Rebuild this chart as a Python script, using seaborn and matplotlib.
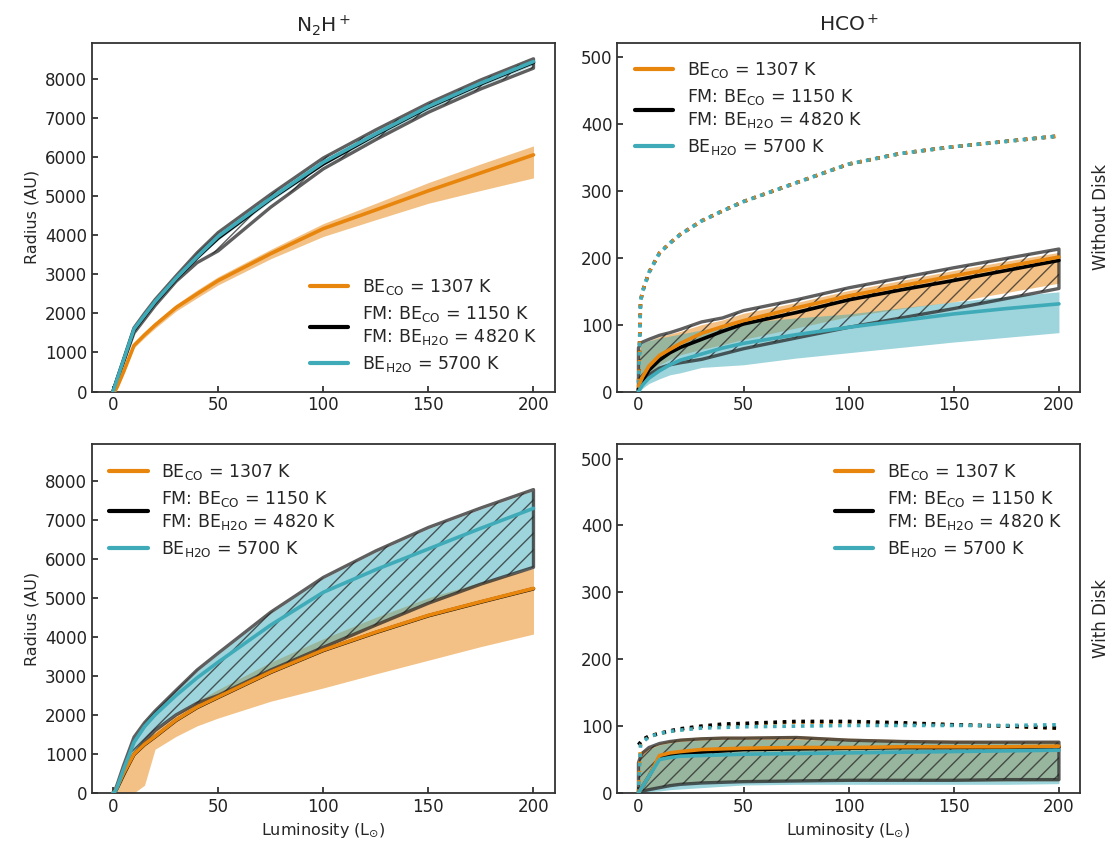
import numpy as np
import pandas as pd
import matplotlib
matplotlib.use("Agg")
import matplotlib.pyplot as plt
from matplotlib.lines import Line2D
import seaborn as sns

sns.set_style("ticks")
plt.rcParams['font.family'] = ['DejaVu Sans']
plt.rcParams['hatch.linewidth'] = 1.0
plt.rcParams['lines.scale_dashes'] = False

# ---------------- data ----------------
L = [0, 1, 2, 5, 10, 15, 20, 30, 40, 50, 75, 100, 125, 150, 175, 200]

# N2H+ without disk
n2h_nd_co_line = [0, 20, 120, 500, 1180, 1450, 1700, 2150, 2500, 2840, 3530, 4170, 4650, 5140, 5600, 6060]
n2h_nd_co_lo = [0, 0, 80, 440, 1120, 1380, 1620, 2060, 2400, 2730, 3400, 3970, 4400, 4820, 5150, 5470]
n2h_nd_co_hi = [0, 60, 170, 560, 1240, 1510, 1770, 2230, 2600, 2940, 3640, 4300, 4820, 5350, 5830, 6290]
n2h_nd_fm_line = [0, 150, 310, 780, 1580, 1930, 2280, 2880, 3430, 3930, 4930, 5830, 6580, 7280, 7880, 8430]
n2h_nd_fm_lo = [0, 150, 300, 750, 1500, 1850, 2200, 2820, 3300, 3600, 4720, 5700, 6450, 7150, 7750, 8280]
n2h_nd_fm_hi = [0, 170, 340, 820, 1630, 2000, 2350, 2960, 3550, 4070, 5050, 5980, 6700, 7380, 7980, 8520]
n2h_nd_h2o_line = [0, 160, 320, 800, 1600, 1950, 2300, 2900, 3450, 3970, 4950, 5870, 6600, 7300, 7900, 8450]
n2h_nd_h2o_lo = [0, 110, 270, 740, 1540, 1890, 2240, 2840, 3380, 3880, 4870, 5790, 6520, 7220, 7820, 8370]
n2h_nd_h2o_hi = [0, 190, 360, 840, 1650, 2000, 2350, 2950, 3500, 4020, 5000, 5930, 6660, 7360, 7960, 8510]

# N2H+ with disk
n2h_d_co_line = [0, 50, 150, 500, 1000, 1250, 1450, 1870, 2200, 2460, 3100, 3660, 4120, 4550, 4900, 5240]
n2h_d_co_lo = [0, 0, 0, 0, 0, 200, 1120, 1450, 1720, 1920, 2350, 2690, 3050, 3400, 3750, 4070]
n2h_d_co_hi = [0, 100, 200, 600, 1100, 1350, 1600, 2000, 2350, 2650, 3350, 3950, 4500, 5000, 5400, 5750]
n2h_d_fm_line = [0, 40, 140, 490, 990, 1240, 1440, 1860, 2190, 2450, 3090, 3650, 4110, 4540, 4890, 5230]
n2h_d_fm_lo = [0, 30, 120, 450, 1000, 1320, 1600, 2000, 2300, 2500, 3150, 3730, 4300, 4860, 5350, 5780]
n2h_d_fm_hi = [0, 80, 220, 700, 1430, 1800, 2100, 2630, 3150, 3580, 4630, 5520, 6200, 6800, 7300, 7770]
n2h_d_h2o_line = [0, 40, 150, 600, 1300, 1700, 2000, 2500, 2950, 3350, 4300, 5140, 5720, 6250, 6780, 7290]
n2h_d_h2o_lo = [0, 30, 130, 500, 1050, 1380, 1650, 2050, 2350, 2560, 3200, 3780, 4350, 4900, 5380, 5800]
n2h_d_h2o_hi = [0, 70, 210, 680, 1400, 1770, 2080, 2610, 3120, 3550, 4600, 5490, 6170, 6770, 7270, 7740]

# HCO+ without disk
hco_nd_co_dot = [0, 135, 150, 178, 207, 222, 235, 255, 270, 284, 312, 340, 356, 366, 374, 382]
hco_nd_fm_dot = [0, 135, 150, 178, 207, 222, 235, 255, 270, 284, 312, 340, 356, 366, 374, 382]
hco_nd_h2o_dot = [0, 135, 150, 178, 207, 222, 235, 255, 270, 284, 312, 340, 356, 366, 374, 382]
hco_nd_co_line = [8, 15, 22, 38, 54, 63, 72, 87, 97, 106, 125, 143, 158, 173, 187, 201]
hco_nd_co_lo = [0, 5, 10, 25, 40, 48, 55, 63, 70, 78, 95, 112, 124, 134, 148, 162]
hco_nd_co_hi = [60, 68, 72, 76, 82, 86, 90, 100, 107, 117, 133, 151, 166, 181, 195, 208]
hco_nd_fm_line = [3, 10, 17, 32, 47, 58, 66, 78, 90, 101, 118, 137, 152, 166, 181, 196]
hco_nd_fm_lo = [0, 8, 14, 25, 35, 40, 43, 48, 56, 64, 80, 96, 110, 124, 139, 154]
hco_nd_fm_hi = [65, 72, 74, 78, 84, 88, 93, 104, 110, 121, 137, 155, 170, 185, 199, 213]
hco_nd_h2o_line = [0, 5, 10, 20, 31, 40, 47, 56, 65, 72, 85, 96, 106, 116, 124, 131]
hco_nd_h2o_lo = [0, 2, 5, 12, 19, 25, 28, 36, 38, 40, 50, 58, 66, 74, 81, 88]
hco_nd_h2o_hi = [20, 70, 73, 76, 80, 83, 86, 92, 98, 103, 110, 116, 125, 134, 142, 149]

# HCO+ with disk
hco_d_co_dot = [0, 74, 78, 85, 89, 92, 95, 99, 101, 103, 106, 106, 104, 102, 100, 97]
hco_d_fm_dot = [72, 76, 80, 85, 89, 93, 96, 100, 103, 104, 107, 107, 105, 102, 100, 97]
hco_d_h2o_dot = [0, 72, 76, 84, 89, 92, 94, 97, 98, 99, 100, 101, 101, 101, 101, 102]
hco_d_co_line = [0, 5, 10, 25, 56, 60, 62, 65, 66, 67, 68, 68, 69, 69, 69, 70]
hco_d_co_lo = [0, 2, 3, 5, 9, 12, 14, 16, 17, 17, 18, 18, 18, 18, 18, 18]
hco_d_co_hi = [60, 62, 64, 68, 75, 79, 82, 84, 85, 85, 86, 82, 80, 79, 78, 78]
hco_d_fm_line = [0, 5, 10, 25, 54, 57, 59, 61, 63, 65, 66, 67, 68, 68, 68, 69]
hco_d_fm_lo = [0, 2, 3, 5, 8, 11, 13, 15, 16, 17, 18, 19, 19, 19, 20, 20]
hco_d_fm_hi = [45, 55, 60, 68, 74, 77, 79, 81, 82, 82, 83, 79, 77, 76, 76, 76]
hco_d_h2o_line = [0, 5, 10, 25, 50, 53, 55, 56, 57, 58, 59, 60, 61, 62, 63, 64]
hco_d_h2o_lo = [0, 0, 1, 2, 3, 5, 6, 8, 10, 12, 13, 13, 13, 13, 13, 14]
hco_d_h2o_hi = [30, 50, 56, 65, 72, 75, 77, 79, 80, 80, 80, 78, 76, 75, 75, 75]

col_titles = ["N$_2$H$^+$", "HCO$^+$"]
row_labels = ["Without Disk", "With Disk"]
legend_labels = ["BE$_{\\mathrm{CO}}$ = 1307 K",
                 "FM: BE$_{\\mathrm{CO}}$ = 1150 K\nFM: BE$_{\\mathrm{H2O}}$ = 4820 K",
                 "BE$_{\\mathrm{H2O}}$ = 5700 K"]

ORANGE = "#E8850C"
TEAL = "#3FABB8"
BLACK = "#000000"
DOT = (2.6, 4.1)  # dot length, gap (points)

panels = [
    dict(co=(n2h_nd_co_line, n2h_nd_co_lo, n2h_nd_co_hi),
         fm=(n2h_nd_fm_line, n2h_nd_fm_lo, n2h_nd_fm_hi),
         h2o=(n2h_nd_h2o_line, n2h_nd_h2o_lo, n2h_nd_h2o_hi),
         dots=None, loc="lower right"),
    dict(co=(hco_nd_co_line, hco_nd_co_lo, hco_nd_co_hi),
         fm=(hco_nd_fm_line, hco_nd_fm_lo, hco_nd_fm_hi),
         h2o=(hco_nd_h2o_line, hco_nd_h2o_lo, hco_nd_h2o_hi),
         dots=[(hco_nd_fm_dot, BLACK, 0.0), (hco_nd_co_dot, ORANGE, 0.0),
               (hco_nd_h2o_dot, TEAL, 0.9)],
         loc="upper left"),
    dict(co=(n2h_d_co_line, n2h_d_co_lo, n2h_d_co_hi),
         fm=(n2h_d_fm_line, n2h_d_fm_lo, n2h_d_fm_hi),
         h2o=(n2h_d_h2o_line, n2h_d_h2o_lo, n2h_d_h2o_hi),
         dots=None, loc="upper left"),
    dict(co=(hco_d_co_line, hco_d_co_lo, hco_d_co_hi),
         fm=(hco_d_fm_line, hco_d_fm_lo, hco_d_fm_hi),
         h2o=(hco_d_h2o_line, hco_d_h2o_lo, hco_d_h2o_hi),
         dots=[(hco_d_co_dot, ORANGE, 0.0), (hco_d_fm_dot, BLACK, 0.0),
               (hco_d_h2o_dot, TEAL, 0.9)],
         loc="upper right"),
]

fig, axes = plt.subplots(2, 2, figsize=(11.12, 8.43), dpi=100)
fig.subplots_adjust(left=0.0827, right=0.9712, top=0.949, bottom=0.0593,
                    wspace=0.136, hspace=0.152)

for i, (ax, p) in enumerate(zip(axes.flat, panels)):
    r, c = divmod(i, 2)
    # bands
    ax.fill_between(L, p["co"][1], p["co"][2], color=ORANGE, alpha=0.5, lw=0, zorder=1)
    ax.fill_between(L, p["h2o"][1], p["h2o"][2], color=TEAL, alpha=0.5, lw=0, zorder=1)
    ax.fill_between(L, p["fm"][1], p["fm"][2], facecolor="none", edgecolor="#222222",
                    alpha=0.72, lw=2.4, hatch="//", zorder=2)
    # dotted outer radii
    if p["dots"] is not None:
        for k, (yv, colr, off) in enumerate(p["dots"]):
            sns.lineplot(x=L, y=yv, ax=ax, color=colr, lw=2.6, legend=False,
                         zorder=3 + 0.1 * k)
            ln = ax.lines[-1]
            ln.set_linestyle((off, DOT))
            ln.set_dash_capstyle("butt")
    # central lines
    sns.lineplot(x=L, y=p["fm"][0], ax=ax, color=BLACK, lw=2.6, legend=False, zorder=4)
    sns.lineplot(x=L, y=p["co"][0], ax=ax, color=ORANGE, lw=2.6, legend=False, zorder=4.5)
    sns.lineplot(x=L, y=p["h2o"][0], ax=ax, color=TEAL, lw=2.6, legend=False, zorder=5)

    ax.set_xlim(-10, 210)
    ax.set_xticks([0, 50, 100, 150, 200])
    if c == 0:
        ax.set_ylim(0, 8925)
        ax.set_yticks(range(0, 8001, 1000))
        ax.set_ylabel("Radius (AU)", fontsize=11.5)
    else:
        ax.set_ylim(0, 521)
        ax.set_yticks(range(0, 501, 100))
        ax.set_ylabel("")
    if r == 1:
        ax.set_xlabel("Luminosity (L$_{\\odot}$)", fontsize=11.5)
    else:
        ax.set_xlabel("")
    if r == 0:
        ax.set_title(col_titles[c], fontsize=14.5, pad=8)
    if c == 1:
        ax.text(1.045, 0.5, row_labels[r], transform=ax.transAxes, rotation=90,
                ha="center", va="center", fontsize=12)

    ax.tick_params(direction="in", length=4, width=1.2, labelsize=12,
                   colors="#222222", top=False, right=False)
    for s in ax.spines.values():
        s.set_visible(True)
        s.set_linewidth(1.3)
        s.set_color("#333333")

    handles = [Line2D([], [], color=ORANGE, lw=3),
               Line2D([], [], color=BLACK, lw=3),
               Line2D([], [], color=TEAL, lw=3)]
    ax.legend(handles, legend_labels, loc=p["loc"], frameon=False, fontsize=12.5,
              handlelength=2.2, labelspacing=0.4, borderaxespad=0.6)

fig.savefig("out.png", dpi=100)
